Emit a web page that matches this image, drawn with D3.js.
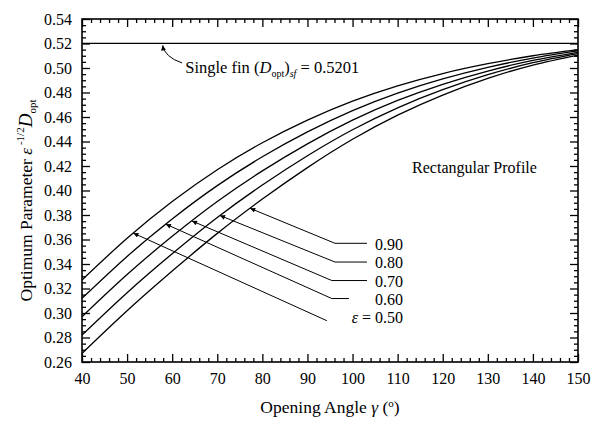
<!DOCTYPE html>
<html>
<head>
<meta charset="utf-8">
<script src="https://cdn.jsdelivr.net/npm/d3@7"></script>
<style>
  html, body { margin: 0; padding: 0; background: #fff; }
  svg { display: block; font-family: "Liberation Serif", "Times New Roman", serif; }
</style>
</head>
<body>
<svg id="chart" width="596" height="427"></svg>
<script>
// Opening angle (degrees) at which each curve is tabulated
const gammaDeg = [40, 50, 60, 70, 80, 90, 100, 110, 120, 130, 140, 150];

// Optimum parameter eps^-1/2 * D_opt for each emissivity
const epsLabels = ["0.50", "0.60", "0.70", "0.80", "0.90"];
const dEps050 = [0.327, 0.361, 0.391, 0.417, 0.439, 0.4575, 0.473, 0.4855, 0.4955, 0.5035, 0.510, 0.515];
const dEps060 = [0.312, 0.3462, 0.3768, 0.404, 0.4275, 0.4478, 0.4652, 0.4795, 0.4911, 0.5005, 0.5081, 0.5139];
const dEps070 = [0.297, 0.3314, 0.3626, 0.391, 0.416, 0.4381, 0.4574, 0.4735, 0.4867, 0.4975, 0.5062, 0.5128];
const dEps080 = [0.282, 0.3166, 0.3484, 0.378, 0.4045, 0.4284, 0.4496, 0.4675, 0.4823, 0.4945, 0.5043, 0.5117];
const dEps090 = [0.267, 0.3018, 0.3342, 0.365, 0.393, 0.4187, 0.4418, 0.4615, 0.4779, 0.4915, 0.5024, 0.5106];

// Single-fin optimum
const singleFinD = 0.5201;

// Axis ticks
const xTicksMajor = [40, 50, 60, 70, 80, 90, 100, 110, 120, 130, 140, 150];
const yTicksMajor = [0.26, 0.28, 0.30, 0.32, 0.34, 0.36, 0.38, 0.40, 0.42, 0.44, 0.46, 0.48, 0.50, 0.52, 0.54];

// Leader lines: angle at which the arrow meets each curve, elbow and end of the leader (data units)
const leaderTipGamma = [51.4, 58.6, 64.4, 70.6, 77.3];
const leaderElbow = [[94.3, 0.2937], [95.4, 0.3118], [95.4, 0.3265], [96.1, 0.3416], [96.1, 0.3569]];
const leaderEnd   = [[94.3, 0.2937], [99.2, 0.3118], [103.2, 0.3265], [103.2, 0.3416], [103.2, 0.3569]];
const labelY = [0.2967, 0.3112, 0.3255, 0.3415, 0.3559];

const series = [dEps050, dEps060, dEps070, dEps080, dEps090];

const svg = d3.select("#chart");
const margin = { left: 82, right: 18, top: 19, bottom: 65 };
const W = 596, H = 427;
const x = d3.scaleLinear().domain([40, 150]).range([margin.left, W - margin.right]);
const y = d3.scaleLinear().domain([0.26, 0.54]).range([H - margin.bottom, margin.top]);

const xMinor = d3.range(40, 150.1, 2).filter(v => v % 10 !== 0);
const yMinor = d3.range(0.26, 0.5401, 0.005).filter(v => Math.abs(Math.round(v * 50) - v * 50) > 1e-6);

function styleAxis(g) {
  g.select(".domain").remove();
  g.selectAll(".tick line").attr("stroke", "#000").attr("stroke-width", 1.3);
  g.selectAll(".tick text").attr("fill", "#000").attr("font-size", 16)
    .attr("font-family", "'Liberation Serif', 'Times New Roman', serif");
}

// Bottom axis
svg.append("g").attr("transform", `translate(0,${y(0.26)})`)
  .call(d3.axisBottom(x).tickValues(xTicksMajor).tickSize(-8).tickPadding(11).tickFormat(d3.format("d")))
  .call(styleAxis);
svg.append("g").attr("transform", `translate(0,${y(0.26)})`)
  .call(d3.axisBottom(x).tickValues(xMinor).tickSize(-4).tickFormat(""))
  .call(styleAxis);
// Top axis
svg.append("g").attr("transform", `translate(0,${y(0.54)})`)
  .call(d3.axisTop(x).tickValues(xTicksMajor).tickSize(-8).tickFormat(""))
  .call(styleAxis);
svg.append("g").attr("transform", `translate(0,${y(0.54)})`)
  .call(d3.axisTop(x).tickValues(xMinor).tickSize(-4).tickFormat(""))
  .call(styleAxis);
// Left axis
svg.append("g").attr("transform", `translate(${x(40)},0)`)
  .call(d3.axisLeft(y).tickValues(yTicksMajor).tickSize(-8).tickPadding(10).tickFormat(d3.format(".2f")))
  .call(styleAxis);
svg.append("g").attr("transform", `translate(${x(40)},0)`)
  .call(d3.axisLeft(y).tickValues(yMinor).tickSize(-4).tickFormat(""))
  .call(styleAxis);
// Right axis
svg.append("g").attr("transform", `translate(${x(150)},0)`)
  .call(d3.axisRight(y).tickValues(yTicksMajor).tickSize(-8).tickFormat(""))
  .call(styleAxis);
svg.append("g").attr("transform", `translate(${x(150)},0)`)
  .call(d3.axisRight(y).tickValues(yMinor).tickSize(-4).tickFormat(""))
  .call(styleAxis);

// Frame
svg.append("rect")
  .attr("x", x(40)).attr("y", y(0.54))
  .attr("width", x(150) - x(40)).attr("height", y(0.26) - y(0.54))
  .attr("fill", "none").attr("stroke", "#000").attr("stroke-width", 1.6);

// Single fin reference line
svg.append("line")
  .attr("x1", x(40)).attr("x2", x(150))
  .attr("y1", y(singleFinD)).attr("y2", y(singleFinD))
  .attr("stroke", "#000").attr("stroke-width", 1.3);

// Curves
const line = d3.line().x((d, i) => x(gammaDeg[i])).y(d => y(d)).curve(d3.curveNatural);
svg.append("g").selectAll("path").data(series).join("path")
  .attr("d", line)
  .attr("fill", "none").attr("stroke", "#000").attr("stroke-width", 1.3);

// Arrowhead marker
svg.append("defs").append("marker")
  .attr("id", "arrow").attr("viewBox", "0 0 10 10")
  .attr("refX", 10).attr("refY", 5)
  .attr("markerWidth", 7).attr("markerHeight", 5)
  .attr("markerUnits", "userSpaceOnUse")
  .attr("orient", "auto")
  .append("path").attr("d", "M0,0 L10,5 L0,10 Z").attr("fill", "#000");

function valueAt(s, g) {
  const i = d3.bisectRight(gammaDeg, g) - 1;
  const t = (g - gammaDeg[i]) / (gammaDeg[i + 1] - gammaDeg[i]);
  return s[i] + t * (s[i + 1] - s[i]);
}

// Leader lines for the curve labels
series.forEach((s, k) => {
  const tipG = leaderTipGamma[k];
  const tip = [x(tipG), y(valueAt(s, tipG))];
  const elbow = [x(leaderElbow[k][0]), y(leaderElbow[k][1])];
  const end = [x(leaderEnd[k][0]), y(leaderEnd[k][1])];
  svg.append("path")
    .attr("d", `M${end[0]},${end[1]} L${elbow[0]},${elbow[1]} L${tip[0]},${tip[1]}`)
    .attr("fill", "none").attr("stroke", "#000").attr("stroke-width", 1)
    .attr("marker-end", "url(#arrow)");
});

// Curve labels
epsLabels.forEach((lab, k) => {
  const t = svg.append("text")
    .attr("x", k === 0 ? x(111.2) : x(105.0))
    .attr("y", y(labelY[k]))
    .attr("dy", "0.35em")
    .attr("font-size", 16)
    .attr("text-anchor", k === 0 ? "end" : "start");
  if (k === 0) {
    t.append("tspan").attr("font-style", "italic").text("ε");
    t.append("tspan").text(" = " + lab);
  } else {
    t.text(lab);
  }
});

// Single fin annotation
svg.append("path")
  .attr("d", `M${x(62.2)},${y(0.5041)} Q${x(58.3)},${y(0.509)} ${x(57.9)},${y(0.5185)}`)
  .attr("fill", "none").attr("stroke", "#000").attr("stroke-width", 1)
  .attr("marker-end", "url(#arrow)");
const sf = svg.append("text").attr("x", x(62.9)).attr("y", y(0.4959)).attr("font-size", 16.5);
sf.append("tspan").text("Single fin (");
sf.append("tspan").attr("font-style", "italic").text("D");
sf.append("tspan").attr("font-size", 10).attr("dy", 4).text("opt");
sf.append("tspan").attr("dy", -4).text(")");
sf.append("tspan").attr("font-size", 10).attr("font-style", "italic").attr("dy", 4).text("sf");
sf.append("tspan").attr("dy", -4).text(" = 0.5201");

// Profile annotation
svg.append("text").attr("x", x(113.2)).attr("y", y(0.4143)).attr("font-size", 16).text("Rectangular Profile");

// Axis titles
const xt = svg.append("text").attr("x", (x(40) + x(150)) / 2).attr("y", 413)
  .attr("text-anchor", "middle").attr("font-size", 17.5);
xt.append("tspan").text("Opening Angle ");
xt.append("tspan").attr("font-style", "italic").text("γ");
xt.append("tspan").text(" (");
xt.append("tspan").attr("font-size", 11).attr("dy", -6).text("o");
xt.append("tspan").attr("dy", 6).text(")");

const yt = svg.append("text")
  .attr("transform", `translate(32,${(y(0.26) + y(0.54)) / 2 + 10}) rotate(-90)`)
  .attr("text-anchor", "middle").attr("font-size", 17.5);
yt.append("tspan").text("Optimum Parameter ");
yt.append("tspan").attr("font-style", "italic").text("ε");
yt.append("tspan").attr("font-size", 11).attr("dy", -8).text(" -1/2");
yt.append("tspan").attr("font-style", "italic").attr("font-size", 19).attr("dy", 8).text("D");
yt.append("tspan").attr("font-size", 11).attr("dy", 4).text("opt");
</script>
</body>
</html>
